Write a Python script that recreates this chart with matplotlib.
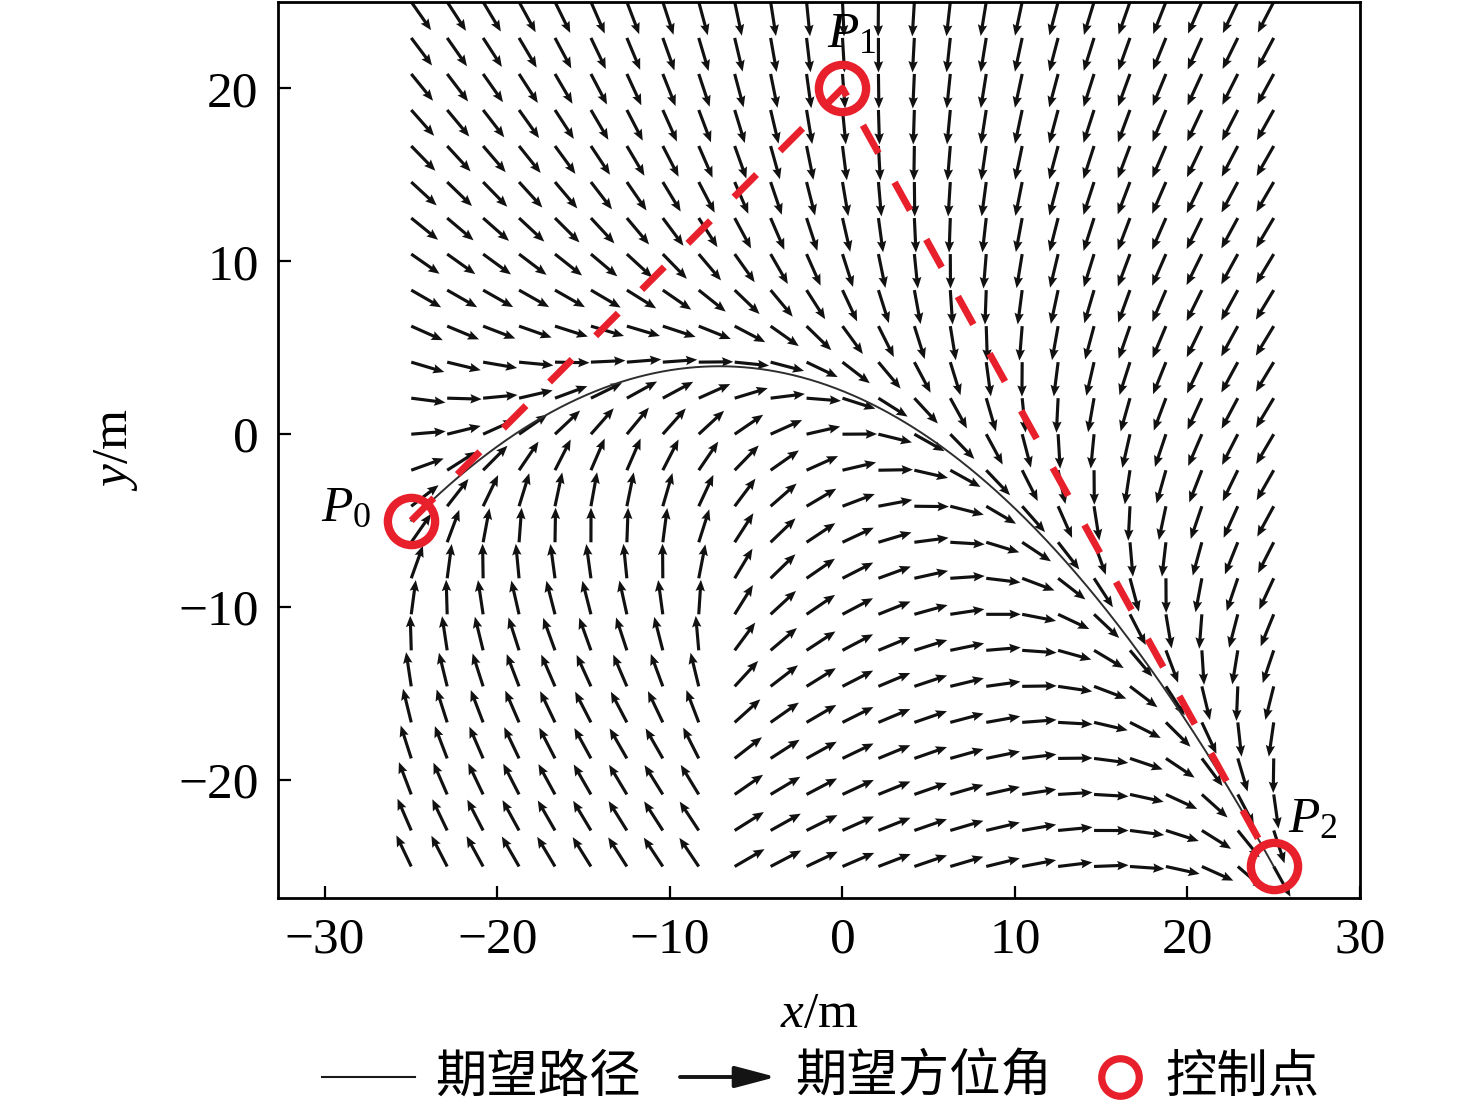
import numpy as np
import matplotlib
matplotlib.use("Agg")
import matplotlib.pyplot as plt
from matplotlib.lines import Line2D

plt.rcParams['font.family'] = ['Liberation Serif', 'Noto Sans CJK SC', 'DejaVu Sans']
plt.rcParams['mathtext.fontset'] = 'custom'
plt.rcParams['mathtext.it'] = 'Liberation Serif:italic'
plt.rcParams['mathtext.rm'] = 'Liberation Serif'

# control points of the desired (quadratic Bezier) path
CTRL_X = [-25.0, 0.0, 25.0]
CTRL_Y = [-5.0, 20.0, -25.0]
CTRL_NAMES = ['$P_0$', '$P_1$', '$P_2$']
LABEL_X = [-27.3, -0.9, 25.8]
LABEL_Y = [-4.3, 23.1, -22.3]

# sample grid of the heading field
GRID_X = np.linspace(-25, 25, 25)
GRID_Y = np.linspace(-25, 25, 25)
K_GAIN = 0.2
ARROW_LEN = 2.0

X_TICKS = [-30, -20, -10, 0, 10, 20, 30]
Y_TICKS = [-20, -10, 0, 10, 20]
LEGEND_NAMES = ['期望路径', '期望方位角', '控制点']

RED = '#e8202c'
FS = 37
CJK = ['Noto Sans CJK SC', 'DejaVu Sans']


def bezier(t):
    p0x, p1x, p2x = CTRL_X
    p0y, p1y, p2y = CTRL_Y
    x = (1 - t)**2 * p0x + 2 * t * (1 - t) * p1x + t**2 * p2x
    y = (1 - t)**2 * p0y + 2 * t * (1 - t) * p1y + t**2 * p2y
    dx = 2 * (1 - t) * (p1x - p0x) + 2 * t * (p2x - p1x)
    dy = 2 * (1 - t) * (p1y - p0y) + 2 * t * (p2y - p1y)
    return x, y, dx, dy


t_fine = np.linspace(0, 1, 2001)
bx, by, bdx, bdy = bezier(t_fine)

# heading at each grid point: tangent of closest path point, corrected by cross-track error
gx, gy = np.meshgrid(GRID_X, GRID_Y)
px = gx.ravel()
py = gy.ravel()
dist = (px[:, None] - bx[None, :])**2 + (py[:, None] - by[None, :])**2
idx = np.argmin(dist, axis=1)

tx = bdx[idx]
ty = bdy[idx]
norm = np.hypot(tx, ty)
tx, ty = tx / norm, ty / norm
cross = tx * (py - by[idx]) - ty * (px - bx[idx])
chi = np.arctan2(ty, tx) - np.arctan(K_GAIN * cross)
U = ARROW_LEN * np.cos(chi)
V = ARROW_LEN * np.sin(chi)

fig = plt.figure(figsize=(14.76, 11.09), dpi=100)
ax = fig.add_axes([0.1884, 0.1903, 0.7330, 0.8083])

ax.quiver(px, py, U, V, angles='xy', scale_units='xy', scale=1,
          width=0.0029, headwidth=3.0, headlength=3.6, headaxislength=3.2,
          color='#111111', zorder=2)
ax.plot(bx, by, color='#2e2e2e', lw=1.4, zorder=3)
ax.plot(CTRL_X, CTRL_Y, color=RED, lw=5.0, dashes=(4.6, 4.8), zorder=4)
ax.plot(CTRL_X, CTRL_Y, 'o', ms=34, mfc='none', mec=RED, mew=6.0, zorder=5)

for name, lx, ly, ha in zip(CTRL_NAMES, LABEL_X, LABEL_Y, ['right', 'left', 'left']):
    ax.text(lx, ly, name, fontsize=FS, ha=ha, va='center', zorder=6)

ax.set_xlim(-32.72, 30)
ax.set_ylim(-26.82, 25.02)
ax.set_xticks(X_TICKS)
ax.set_yticks(Y_TICKS)
ax.tick_params(direction='in', length=9, width=1.6, labelsize=FS, pad=14,
               top=False, right=False)
for sp in ax.spines.values():
    sp.set_linewidth(2.0)

ax.set_xlabel('$x$/m', fontsize=FS)
ax.xaxis.set_label_coords(0.5, -0.104)
ax.set_ylabel('$y$/m', fontsize=FS)
ax.yaxis.set_label_coords(-0.128, 0.5)

# legend row below the axes (figure pixels, origin bottom-left)
ly = 1109 - 1077
fig.add_artist(Line2D([322 / 1476, 415 / 1476], [ly / 1109, ly / 1109],
                      color='#1a1a1a', lw=1.5, transform=fig.transFigure))
ax.annotate('', xy=(776, ly), xytext=(680, ly), xycoords='figure pixels',
            textcoords='figure pixels', annotation_clip=False,
            arrowprops=dict(arrowstyle='-|>,head_length=1.25,head_width=0.33',
                            lw=2.8, color='#141414', mutation_scale=20,
                            shrinkA=0, shrinkB=0))
fig.add_artist(Line2D([1120 / 1476], [ly / 1109], ls='none', marker='o', ms=27,
                      mfc='none', mec=RED, mew=5.2, transform=fig.transFigure))
for name, x0 in zip(LEGEND_NAMES, [435, 795, 1165]):
    fig.text(x0 / 1476, ly / 1109, name, fontsize=FS, family=CJK,
             ha='left', va='center')

fig.savefig('out.png', dpi=100, facecolor='white')
